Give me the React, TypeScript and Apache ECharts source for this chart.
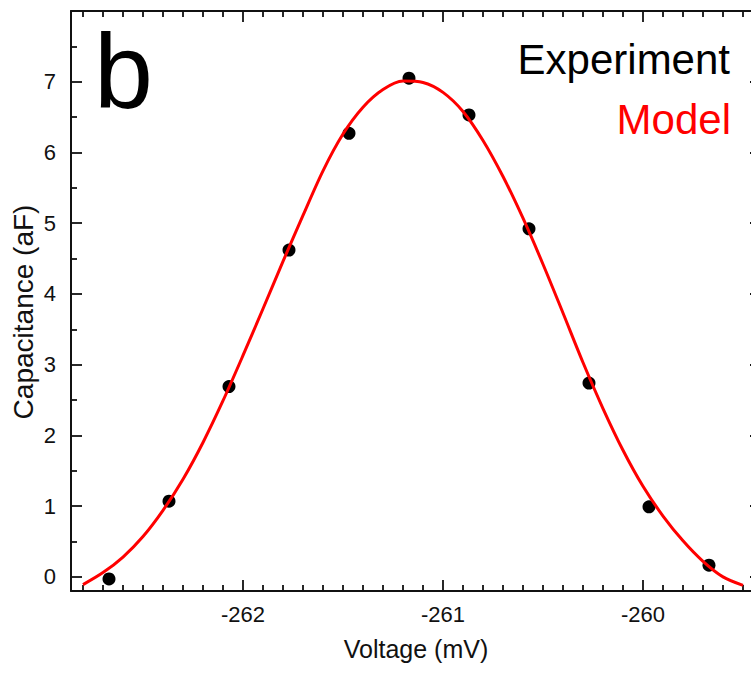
import React, { useEffect, useRef } from "react";
import * as echarts from "echarts";

// Experimental points (Voltage in mV, Capacitance in aF)
const expVoltage = [-262.67, -262.37, -262.07, -261.77, -261.47, -261.17, -260.87, -260.57, -260.27, -259.97, -259.67];
const expCapacitance = [-0.03, 1.07, 2.69, 4.62, 6.27, 7.05, 6.53, 4.92, 2.74, 0.99, 0.165];

// Model curve, every 0.1 mV
const modelVoltage = [
  -262.8, -262.7, -262.6, -262.5, -262.4, -262.3, -262.2, -262.1, -262.0, -261.9,
  -261.8, -261.7, -261.6, -261.5, -261.4, -261.3, -261.2, -261.1, -261.0, -260.9,
  -260.8, -260.7, -260.6, -260.5, -260.4, -260.3, -260.2, -260.1, -260.0, -259.9,
  -259.8, -259.7, -259.6, -259.5,
];
const modelCapacitance = [
  -0.11, 0.06, 0.28, 0.57, 0.94, 1.38, 1.9, 2.49, 3.13, 3.79,
  4.46, 5.11, 5.74, 6.26, 6.64, 6.89, 7.01, 6.99, 6.85, 6.58,
  6.17, 5.66, 5.07, 4.42, 3.73, 3.03, 2.38, 1.79, 1.28, 0.86,
  0.51, 0.22, 0.0, -0.12,
];

// Axis ticks
const xMajorTicks = [-262, -261, -260];
const xMinorTicks = [
  -262.8, -262.7, -262.6, -262.5, -262.4, -262.3, -262.2, -262.1,
  -261.9, -261.8, -261.7, -261.6, -261.5, -261.4, -261.3, -261.2, -261.1,
  -260.9, -260.8, -260.7, -260.6, -260.5, -260.4, -260.3, -260.2, -260.1,
  -259.9, -259.8, -259.7, -259.6, -259.5,
];
const yMajorTicks = [0, 1, 2, 3, 4, 5, 6, 7];
const yMinorTicks = [0.5, 1.5, 2.5, 3.5, 4.5, 5.5, 6.5, 7.5];

const X_MIN = -262.86;
const X_MAX = -259.41;
const Y_MIN = -0.2;
const Y_MAX = 8;

export default function App() {
  const ref = useRef<HTMLDivElement>(null);

  useEffect(() => {
    if (!ref.current) return;
    const chart = echarts.init(ref.current, null, { renderer: "svg" });
    const font = "'Liberation Sans', Arial, Helvetica, sans-serif";
    const axisColor = "#111111";
    const lineStyle = { color: axisColor, width: 2 };
    const tickStyle = { color: axisColor, width: 1.8 };

    const xBase = (position: string, major: boolean, showLine: boolean) => ({
      type: "value",
      min: X_MIN,
      max: X_MAX,
      position,
      offset: 0,
      splitLine: { show: false },
      axisLine: { show: showLine, onZero: false, lineStyle },
      axisTick: {
        show: true,
        inside: true,
        length: major ? 11 : 6,
        customValues: major ? xMajorTicks : xMinorTicks,
        lineStyle: tickStyle,
      },
      axisLabel: { show: false },
    });
    const yBase = (position: string, major: boolean, showLine: boolean) => ({
      type: "value",
      min: Y_MIN,
      max: Y_MAX,
      position,
      offset: 0,
      splitLine: { show: false },
      axisLine: { show: showLine, onZero: false, lineStyle },
      axisTick: {
        show: true,
        inside: true,
        length: major ? 11 : 6,
        customValues: major ? yMajorTicks : yMinorTicks,
        lineStyle: tickStyle,
      },
      axisLabel: { show: false },
    });

    chart.setOption({
      animation: false,
      backgroundColor: "#ffffff",
      grid: { left: 71, right: 1, top: 11, bottom: 89, containLabel: false },
      xAxis: [
        {
          ...xBase("bottom", true, true),
          axisLabel: {
            show: true,
            customValues: xMajorTicks,
            fontSize: 22,
            margin: 12,
            color: axisColor,
            fontFamily: font,
          },
          name: "Voltage (mV)",
          nameLocation: "middle",
          nameGap: 45,
          nameTextStyle: { fontSize: 25, color: axisColor, fontFamily: font },
        },
        xBase("bottom", false, false),
        xBase("top", true, true),
        xBase("top", false, false),
      ],
      yAxis: [
        {
          ...yBase("left", true, true),
          axisLabel: {
            show: true,
            customValues: yMajorTicks,
            fontSize: 22,
            margin: 15,
            color: axisColor,
            fontFamily: font,
          },
        },
        yBase("left", false, false),
        yBase("right", true, true),
        yBase("right", false, false),
      ],
      graphic: [
        {
          type: "text",
          x: 94,
          y: 71,
          style: {
            text: "b",
            fontSize: 106,
            fontFamily: font,
            fill: "#000000",
            textAlign: "left",
            textVerticalAlign: "middle",
          },
        },
        {
          type: "text",
          x: 730,
          y: 59.5,
          style: {
            text: "Experiment",
            fontSize: 42,
            fontFamily: font,
            fill: "#000000",
            textAlign: "right",
            textVerticalAlign: "middle",
          },
        },
        {
          type: "text",
          x: 731,
          y: 119,
          style: {
            text: "Model",
            fontSize: 42,
            fontFamily: font,
            fill: "#ff0000",
            textAlign: "right",
            textVerticalAlign: "middle",
          },
        },
        {
          type: "text",
          x: 23,
          y: 312,
          rotation: Math.PI / 2,
          style: {
            text: "Capacitance (aF)",
            fontSize: 28,
            fontFamily: font,
            fill: axisColor,
            textAlign: "center",
            textVerticalAlign: "middle",
          },
        },
      ],
      series: [
        {
          name: "Experiment",
          type: "scatter",
          xAxisIndex: 0,
          yAxisIndex: 0,
          symbol: "circle",
          symbolSize: 13,
          itemStyle: { color: "#000000", opacity: 1 },
          z: 2,
          data: expVoltage.map((v, i) => [v, expCapacitance[i]]),
        },
        {
          name: "Model",
          type: "line",
          xAxisIndex: 0,
          yAxisIndex: 0,
          smooth: 0.3,
          showSymbol: false,
          symbol: "none",
          lineStyle: { color: "#ff0000", width: 3 },
          z: 3,
          data: modelVoltage.map((v, i) => [v, modelCapacitance[i]]),
        },
      ],
    });

    return () => chart.dispose();
  }, []);

  return (
    <div
      style={{
        position: "fixed",
        left: 0,
        top: 0,
        width: 751,
        height: 680,
        overflow: "hidden",
        background: "#ffffff",
      }}
    >
      <div ref={ref} style={{ width: 762, height: 680 }} />
    </div>
  );
}
